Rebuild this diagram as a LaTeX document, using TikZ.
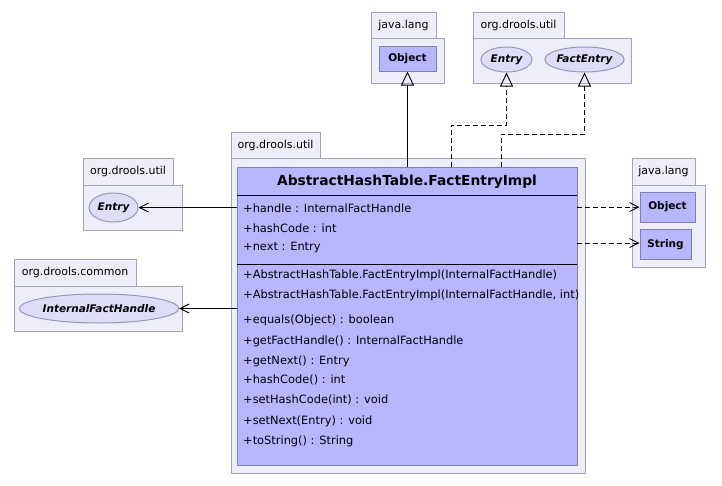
\documentclass[tikz,border=0pt]{standalone}
\usepackage{fontspec}
\setmainfont{DejaVu Sans}
\usetikzlibrary{arrows.meta,shapes.geometric}
\definecolor{pkgfill}{RGB}{238,238,250}
\definecolor{pkgdraw}{RGB}{162,162,186}
\definecolor{clsfill}{RGB}{183,183,255}
\definecolor{clsdraw}{RGB}{128,128,168}
\definecolor{elfill}{RGB}{221,221,248}
\definecolor{eldraw}{RGB}{150,150,184}
\begin{document}
\begin{tikzpicture}[x=1pt,y=-1pt,
  box/.style={inner sep=0pt, outer sep=0pt, anchor=north west, line width=1pt},
  pkg/.style={box, draw=pkgdraw, fill=pkgfill},
  cls/.style={box, draw=clsdraw, fill=clsfill},
  small/.style={draw=clsdraw, fill=clsfill, inner sep=0pt, line width=1pt, font=\fontsize{10.5}{12}\selectfont\bfseries},
  iface/.style={ellipse, draw=eldraw, fill=elfill, inner sep=0pt, line width=1pt, font=\fontsize{10.5}{12}\selectfont\bfseries\itshape},
  lbl/.style={inner sep=0pt, font=\fontsize{11}{12}\selectfont},
  mem/.style={inner sep=0pt, anchor=west, font=\fontsize{11.4}{13}\selectfont},
  gen/.style={-{Triangle[open, length=14pt, width=13pt]}, line width=0.9pt},
  dep/.style={-{Straight Barb[length=9pt, width=9pt]}, line width=0.9pt},
  real/.style={-{Triangle[open, length=14pt, width=13pt]}, line width=0.9pt, dash pattern=on 5pt off 3pt},
  ddep/.style={dep, dash pattern=on 5pt off 3pt}]
\useasboundingbox[fill=white] (0,0) rectangle (722,485);

% top java.lang
\node[pkg, minimum width=65, minimum height=26] (t1tab) at (371,12) {};
\node[lbl] (t1lbl) at (403.5,25) {java.lang};
\node[pkg, minimum width=73, minimum height=45] (t1) at (371,38) {};
\node[small, minimum width=57, minimum height=25] (obj1) at (407.5,58.5) {Object};

% top org.drools.util
\node[pkg, minimum width=91, minimum height=26] (t2tab) at (473,12) {};
\node[lbl] (t2lbl) at (518.5,25) {org.drools.util};
\node[pkg, minimum width=158, minimum height=45] (t2) at (473,38) {};
\node[iface, minimum width=51, minimum height=25] (e1) at (506.5,59.5) {Entry};
\node[iface, minimum width=77, minimum height=25] (fe) at (584.5,59.5) {FactEntry};

% left org.drools.util
\node[pkg, minimum width=90, minimum height=27] (l1tab) at (83,158) {};
\node[lbl] (l1lbl) at (128,171.5) {org.drools.util};
\node[pkg, minimum width=99, minimum height=45] (l1) at (83,185) {};
\node[iface, minimum width=49, minimum height=29] (e2) at (113.5,207.5) {Entry};

% left org.drools.common
\node[pkg, minimum width=122, minimum height=27] (l2tab) at (14,259) {};
\node[lbl] (l2lbl) at (75,272.5) {org.drools.common};
\node[pkg, minimum width=168, minimum height=45] (l2) at (14,286) {};
\node[iface, minimum width=152, minimum height=29] (ifh) at (99,308.5) {InternalFactHandle};

% right java.lang
\node[pkg, minimum width=63, minimum height=27] (r1tab) at (632,158) {};
\node[lbl] (r1lbl) at (663.5,171.5) {java.lang};
\node[pkg, minimum width=73, minimum height=82] (r1) at (632,185) {};
\node[small, minimum width=55, minimum height=30] (obj2) at (667.5,207) {Object};
\node[small, minimum width=51, minimum height=30] (str) at (665.5,244.5) {String};

% main package
\node[pkg, minimum width=89, minimum height=26] (mtab) at (231,132) {};
\node[lbl] (mlbl) at (275.5,145) {org.drools.util};
\node[pkg, minimum width=354, minimum height=315] (mp) at (231,158) {};
\node[cls, minimum width=340, minimum height=298] (cls) at (237,167) {};
\node[inner sep=0pt, font=\fontsize{13.8}{15}\selectfont\bfseries] (title) at (407,182) {AbstractHashTable.FactEntryImpl};
\draw[line width=1pt] (237,195) -- (577,195);
\draw[line width=1pt] (237,264) -- (577,264);
\node[mem] (a1) at (243,208) {+handle : InternalFactHandle};
\node[mem] (a2) at (243,228) {+hashCode : int};
\node[mem] (a3) at (243,248) {+next : Entry};
\node[mem] (k1) at (243,275) {+AbstractHashTable.FactEntryImpl(InternalFactHandle)};
\node[mem] (k2) at (243,295) {+AbstractHashTable.FactEntryImpl(InternalFactHandle, int)};
\node[mem] (m1) at (243,320) {+equals(Object) : boolean};
\node[mem] (m2) at (243,341) {+getFactHandle() : InternalFactHandle};
\node[mem] (m3) at (243,361) {+getNext() : Entry};
\node[mem] (m4) at (243,380) {+hashCode() : int};
\node[mem] (m5) at (243,400) {+setHashCode(int) : void};
\node[mem] (m6) at (243,421) {+setNext(Entry) : void};
\node[mem] (m7) at (243,441) {+toString() : String};

% connectors
\coordinate (c1) at (451,125);
\coordinate (c2) at (501,134);
\draw[gen] (obj1.south |- cls.north) -- (obj1.south);
\draw[real] (c1 |- cls.north) -- (c1) -| (e1.south);
\draw[real] (c2 |- cls.north) -- (c2) -| (fe.south);
\draw[dep] (cls.west |- e2.east) -- (e2.east);
\draw[dep] (cls.west |- ifh.east) -- (ifh.east);
\draw[ddep] (cls.east |- obj2.west) -- (obj2.west);
\draw[ddep] (cls.east |- 0,243) -- (str.west |- 0,243);
\end{tikzpicture}
\end{document}
